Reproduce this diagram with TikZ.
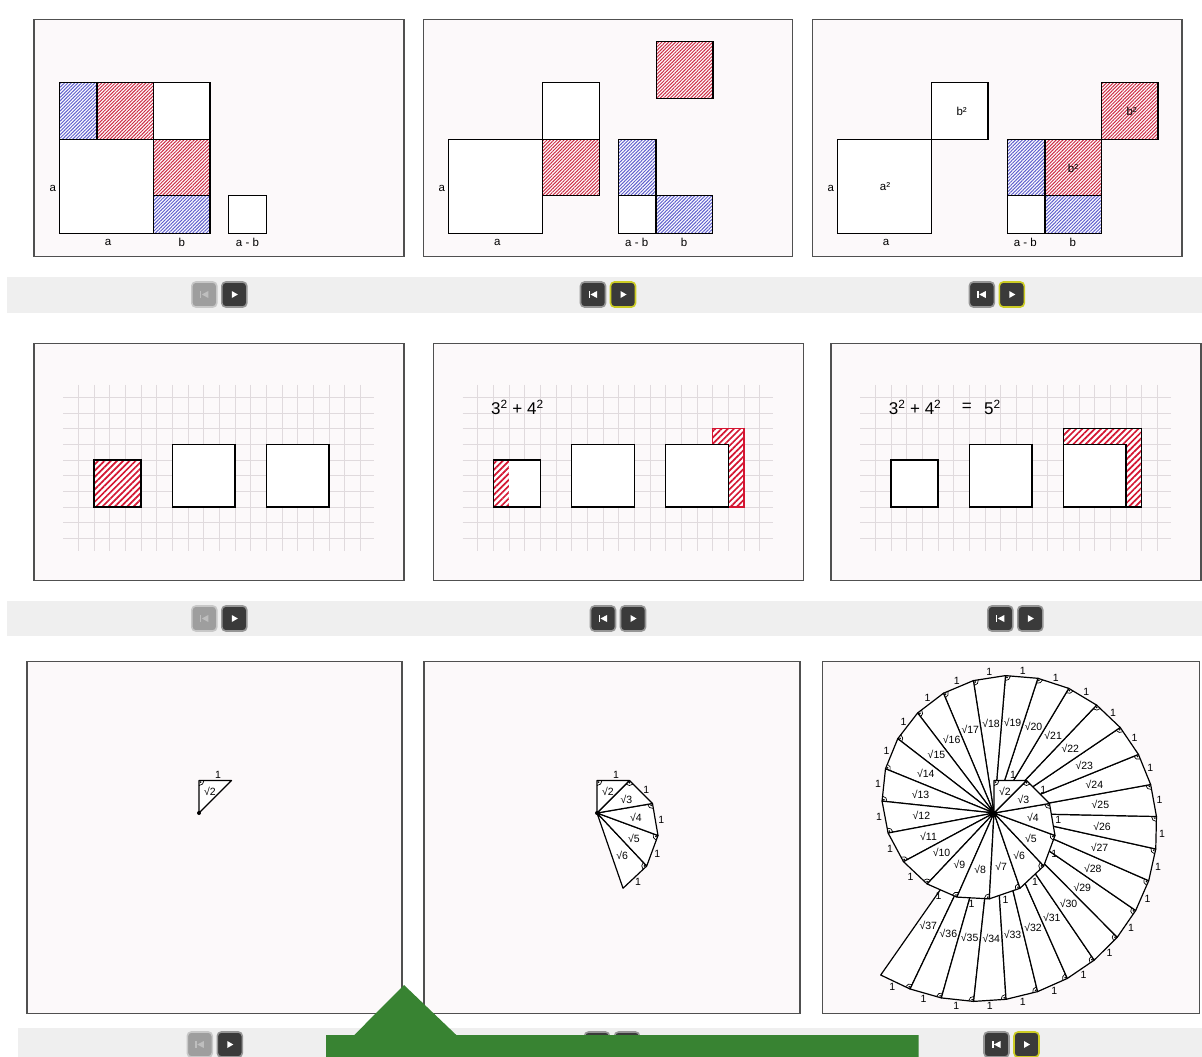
\documentclass[tikz,border=0pt]{standalone}
\usepackage{fontspec}
\setmainfont{Liberation Sans}
\usetikzlibrary{positioning,calc,patterns.meta}

\definecolor{paper}{RGB}{252,249,250}
\definecolor{framegray}{RGB}{80,80,80}
\definecolor{barfill}{RGB}{239,239,239}
\definecolor{gridgray}{RGB}{224,218,221}
\definecolor{hatchred}{RGB}{205,45,70}
\definecolor{hatchblue}{RGB}{95,95,205}
\definecolor{stripred}{RGB}{212,22,50}
\definecolor{btndark}{RGB}{58,58,58}
\definecolor{btnring}{RGB}{150,150,150}
\definecolor{btngray}{RGB}{158,158,158}
\definecolor{btnpale}{RGB}{200,200,200}
\definecolor{btnhot}{RGB}{204,204,36}
\definecolor{iconpale}{RGB}{190,190,190}
\definecolor{cuegreen}{RGB}{56,131,50}

% back / play pair: centre x, centre y, back style, play style, back icon colour
\newcommand\ctrlpair[5]{%
  \node[#3] (back) at ({#1-15},#2) {};
  \node[#4] (play) at ({#1+15},#2) {};
  \begin{scope}[shift={(back.center)}]
    \fill[#5] (-4.5,-3.5) rectangle (-3,3.5);
    \fill[#5] (4,-3.5) -- (4,3.5) -- (-2.5,0) -- cycle;
  \end{scope}
  \begin{scope}[shift={(play.center)}]
    \fill[white] (-2.5,-3.5) -- (-2.5,3.5) -- (3.5,0) -- cycle;
  \end{scope}
}

% spiral of Theodorus with #1 triangles, around the origin
\newcommand\theodorus[1]{%
  \coordinate (o) at (0,0);
  \xdef\spang{90}%
  \pgfmathtruncatemacro\spn{#1+1}%
  \foreach \n in {1,...,\spn}{%
    \coordinate (p\n) at (\spang:{sqrt(\n)*32.5});
    \expandafter\xdef\csname spa\n\endcsname{\spang}%
    \pgfmathsetmacro\nextang{\spang-atan(1/sqrt(\n))}%
    \xdef\spang{\nextang}%
  }%
  \foreach \n in {#1,...,1}{%
    \pgfmathtruncatemacro\nn{\n+1}%
    \edef\spa{\csname spa\n\endcsname}%
    \coordinate (m\n) at ($(p\n)!0.5!(p\nn)$);
    \draw[tri] (o) -- (p\n) -- (p\nn) -- cycle;
    \draw[rightmark] (p\n) ++({\spa+180}:5) arc[start angle=\spa+180, end angle=\spa+270, radius=5];
    \fill (p\n) ++({\spa+225}:2.3) circle (0.9);
    \node[rootlbl] (r\nn) at ($(o)!0.6667!(m\n)$) {√\nn};
  }%
  \fill (o) circle (2);
  \foreach \n in {1,...,#1}{%
    \node[onelbl] (one\n) at ($(m\n)!-6pt!(o)$) {1};
  }%
}

\begin{document}
\begin{tikzpicture}
  [x=1pt, y=-1pt, line join=miter,
  panel/.style={draw=framegray, fill=paper, line width=1.4pt},
  sq/.style={draw=black, fill=white, line width=1.5pt},
  rsq/.style={sq, preaction={fill=white}, pattern={Lines[angle=45,distance=2.4pt,line width=1pt]}, pattern color=hatchred},
  bsq/.style={sq, preaction={fill=white}, pattern={Lines[angle=45,distance=2.4pt,line width=1pt]}, pattern color=hatchblue},
  strip/.style={preaction={fill=white}, pattern={Lines[angle=45,distance=4.4pt,line width=1.7pt]}, pattern color=stripred},
  gridln/.style={draw=gridgray, line width=0.6pt},
  cells/.style={shift={(#1,397.3)}, x=15.67pt, y=-15.67pt},
  lbl/.style={font=\fontsize{11.5}{13}\selectfont, inner sep=0pt},
  sumtext/.style={font=\fontsize{17}{20}\selectfont, inner sep=0pt},
  tri/.style={draw=black, fill=white, line width=1.2pt, line join=round},
  rightmark/.style={draw=black, line width=0.7pt},
  rootlbl/.style={font=\fontsize{10.5}{12}\selectfont, inner sep=0pt},
  onelbl/.style={font=\fontsize{10.5}{12}\selectfont, inner sep=0pt},
  btn/.style={rectangle, rounded corners=4pt, minimum size=25pt, inner sep=0pt, line width=1.6pt, draw=btnring, fill=btndark},
  btnoff/.style={btn, draw=btnpale, fill=btngray},
  btnlit/.style={btn, draw=btnhot}]

  \useasboundingbox (0,0) rectangle (1202,1057);
  \fill[white] (0,0) rectangle (1202,1057);

  % control bars
  \fill[barfill] (7,276.7) rectangle (1202,313.3);
  \fill[barfill] (7,600.7) rectangle (1202,636);
  \fill[barfill] (18,1027.7) rectangle (1202,1057);

  % panels
  \foreach \l/\r in {34/404, 423.3/792.7, 812.3/1182}
    \draw[panel] (\l,19.3) rectangle (\r,256.7);
  \foreach \l/\r in {34/404, 433.3/803.3, 831/1201}
    \draw[panel] (\l,343.3) rectangle (\r,580.7);
  \foreach \l/\r in {26.8/401.8, 424/800, 822.7/1199.3}
    \draw[panel] (\l,661.7) rectangle (\r,1013.3);

  % row 1, panel 1
  \draw[bsq] (59.3,82.7) rectangle (97,139.3);
  \draw[rsq] (97,82.7) rectangle (153.3,139.3);
  \draw[sq] (153.3,82.7) rectangle (210,139.3);
  \draw[sq] (59.3,139.3) rectangle (153.3,233.3);
  \draw[rsq] (153.3,139.3) rectangle (210,195.3);
  \draw[bsq] (153.3,195.3) rectangle (210,233.3);
  \draw[sq] (228.7,195.3) rectangle (266.4,233.3);
  \node[lbl] (sideA1) at (52.7,188) {a};
  \node[lbl] (baseA1) at (108,242) {a};
  \node[lbl] (baseB1) at (181.7,242) {b};
  \node[lbl] (baseD1) at (247.5,242) {a - b};

  % row 1, panel 2
  \draw[sq] (448.3,139.3) rectangle (542.7,233.3);
  \draw[sq] (542.7,82.7) rectangle (599.3,139.3);
  \draw[rsq] (542.7,139.3) rectangle (599.3,195.3);
  \draw[rsq] (656.3,41.7) rectangle (712.9,98.3);
  \draw[bsq] (618.3,139.3) rectangle (656,195.3);
  \draw[sq] (618.3,195.3) rectangle (656,233.3);
  \draw[bsq] (656,195.3) rectangle (712.6,233.3);
  \node[lbl] (sideA2) at (441.7,188) {a};
  \node[lbl] (baseA2) at (497.3,242) {a};
  \node[lbl] (baseD2) at (636.7,242) {a - b};
  \node[lbl] (baseB2) at (684,242) {b};

  % row 1, panel 3
  \draw[sq] (837.3,139.3) rectangle (931.3,233.3);
  \draw[sq] (931.3,82.7) rectangle (987.9,139.3);
  \draw[bsq] (1007.3,139.3) rectangle (1045,195.3);
  \draw[sq] (1007.3,195.3) rectangle (1045,233.3);
  \draw[rsq] (1045,139.3) rectangle (1101.6,195.3);
  \draw[bsq] (1045,195.3) rectangle (1101.6,233.3);
  \draw[rsq] (1101.6,82.7) rectangle (1158.2,139.3);
  \node[lbl] (sideA3) at (830.7,188) {a};
  \node[lbl] (baseA3) at (886,242) {a};
  \node[lbl] (baseD3) at (1025.3,242) {a - b};
  \node[lbl] (baseB3) at (1072.7,242) {b};
  \node[lbl] (areaA3) at (885,186.7) {a²};
  \node[lbl] (areaB3) at (961.7,111.7) {b²};
  \node[lbl] (areaC3) at (1073,168) {b²};
  \node[lbl] (areaD3) at (1131.7,111.7) {b²};

  % row 2, grids
  \foreach \gx in {78.3, 477.6, 875.3}{
    \begin{scope}[cells=\gx]
      \foreach \k in {0,...,18}
        \draw[gridln] (\k,-0.8) -- (\k,9.8);
      \foreach \j in {0,...,9}
        \draw[gridln] (-0.95,\j) -- (18.85,\j);
    \end{scope}
  }

  % row 2, panel 4
  \begin{scope}[cells=78.3]
    \draw[strip, draw=black, line width=1.5pt] (1,4) rectangle (4,7);
    \draw[sq] (6,3) rectangle (10,7);
    \draw[sq] (12,3) rectangle (16,7);
  \end{scope}

  % row 2, panel 5
  \begin{scope}[cells=477.6]
    \fill[white] (1,4) rectangle (4,7);
    \fill[strip] (1,4) rectangle (2,7);
    \draw[draw=black, line width=1.5pt] (1,4) rectangle (4,7);
    \draw[sq] (6,3) rectangle (10,7);
    \draw[strip, draw=stripred, line width=1.2pt] (15,2) -- (17,2) -- (17,7) -- (16,7) -- (16,3) -- (15,3) -- cycle;
    \draw[sq] (12,3) rectangle (16,7);
    \node[sumtext, anchor=west] (sum5) at (0.85,0.64) {3\textsuperscript{2} + 4\textsuperscript{2}};
  \end{scope}

  % row 2, panel 6
  \begin{scope}[cells=875.3]
    \draw[sq] (1,4) rectangle (4,7);
    \draw[sq] (6,3) rectangle (10,7);
    \fill[strip] (12,2) -- (17,2) -- (17,7) -- (16,7) -- (16,3) -- (12,3) -- cycle;
    \draw[sq] (12,3) rectangle (16,7);
    \draw[line width=1.5pt] (12,2) rectangle (17,7);
    \node[sumtext, anchor=west] (sum6) at (0.85,0.64) {3\textsuperscript{2} + 4\textsuperscript{2}};
    \node[sumtext, right=20pt of sum6] (eq6) {=};
    \node[sumtext, right=12pt of eq6] (res6) {5\textsuperscript{2}};
  \end{scope}

  % row 3, spirals
  \begin{scope}[shift={(199,813)}, yscale=-1]
    \theodorus{1}
  \end{scope}
  \begin{scope}[shift={(597,813)}, yscale=-1]
    \theodorus{5}
  \end{scope}
  \begin{scope}[shift={(994,813)}, yscale=-1]
    \theodorus{36}
  \end{scope}

  % buttons
  \ctrlpair{219.3}{294.5}{btnoff}{btn}{iconpale}
  \ctrlpair{608}{294.5}{btn}{btnlit}{white}
  \ctrlpair{996.8}{294.5}{btn}{btnlit}{white}
  \ctrlpair{219.3}{618.5}{btnoff}{btn}{iconpale}
  \ctrlpair{618}{618.5}{btn}{btn}{white}
  \ctrlpair{1015.3}{618.5}{btn}{btn}{white}
  \ctrlpair{214.8}{1044.5}{btnoff}{btn}{iconpale}
  \ctrlpair{612}{1044.5}{btn}{btn}{white}
  \ctrlpair{1011.5}{1044.5}{btn}{btnlit}{white}

  % green cue
  \fill[cuegreen] (326,1057) -- (326,1035) -- (354.3,1035) -- (404,985)
    -- (456.3,1035) -- (918.7,1035) -- (918.7,1057) -- cycle;
\end{tikzpicture}
\end{document}
